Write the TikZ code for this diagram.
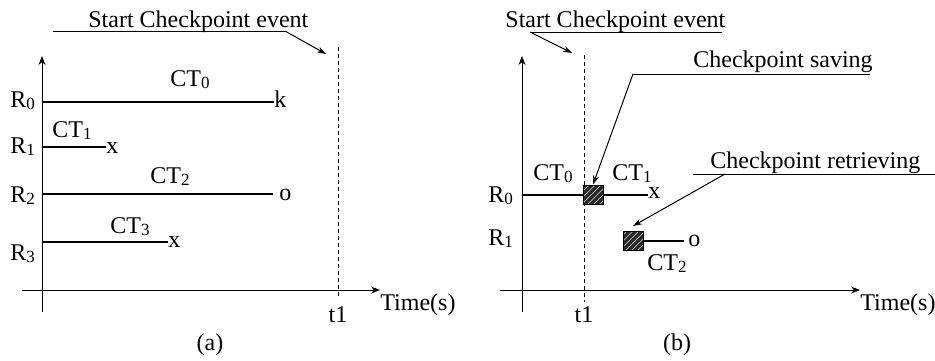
\documentclass[tikz,border=0pt]{standalone}
\usepackage{fontspec}
\setmainfont{Liberation Serif}
\usetikzlibrary{arrows.meta,patterns}
\newcommand{\sbs}[1]{\raisebox{-0.2ex}{\fontsize{8.5}{8.5}\selectfont #1}}
\begin{document}
\begin{tikzpicture}[x=0.5pt,y=-0.5pt,
  lbl/.style={anchor=base west,inner sep=0pt,font=\fontsize{12}{12}\selectfont},
  lblc/.style={anchor=base,inner sep=0pt,font=\fontsize{12}{12}\selectfont},
  axis/.style={line width=0.5pt,-{Stealth[length=4.5pt,width=3.5pt]}},
  task/.style={line width=1pt},
  evline/.style={line width=0.5pt,dash pattern=on 2pt off 1.5pt},
  note/.style={line width=0.5pt,-{Stealth[length=4.5pt,width=3pt]}},
  ckbox/.style={draw,line width=0.5pt,minimum width=10pt,minimum height=9.5pt,inner sep=0pt,
    preaction={fill=black!85},pattern=north east lines,pattern color=black!35}]
\useasboundingbox (0,0) rectangle (935,360);
% ---------- panel (a) ----------
\coordinate (ya0) at (42,312);
\coordinate (ya1) at (42,56);
\coordinate (xa0) at (22,290);
\coordinate (xa1) at (380,290);
\draw[axis] (ya0) -- (ya1);
\draw[axis] (xa0) -- (xa1);
\coordinate (da0) at (338,47);
\coordinate (da1) at (338,296);
\draw[evline] (da0) -- (da1);
\node[lbl] (timea) at (380,310) {Time(s)};
\node[lblc] (t1a) at (338,322) {t1};
\node[lblc] (capa) at (210,350) {(a)};
\node[lbl] (sca) at (88,27) {Start Checkpoint event};
\coordinate (ua0) at (53,31);
\coordinate (ua1) at (285,31);
\coordinate (ua2) at (326,54);
\draw[line width=0.5pt] (ua0) -- (ua1);
\draw[note] (ua1) -- (ua2);
% R0
\node[lbl] (r0a) at (10,107) {R\sbs{0}};
\coordinate (l0a) at (42,102);
\node[lbl] (k0a) at (274,107) {k};
\draw[task] (l0a) -- (k0a.west |- l0a);
\node[lbl] (ct0a) at (170,86) {CT\sbs{0}};
% R1
\node[lbl] (r1a) at (10,153) {R\sbs{1}};
\coordinate (l1a) at (42,147);
\node[lbl] (x1a) at (106,153) {x};
\draw[task] (l1a) -- (x1a.west |- l1a);
\node[lbl] (ct1a) at (52,137) {CT\sbs{1}};
% R2
\node[lbl] (r2a) at (10,202) {R\sbs{2}};
\coordinate (l2a) at (42,194);
\node[lbl] (o2a) at (279,200) {o};
\draw[task] (l2a) -- (273,194);
\node[lbl] (ct2a) at (150,183) {CT\sbs{2}};
% R3
\node[lbl] (r3a) at (10,260) {R\sbs{3}};
\coordinate (l3a) at (42,242);
\node[lbl] (x3a) at (168,247) {x};
\draw[task] (l3a) -- (x3a.west |- l3a);
\node[lbl] (ct3a) at (110,233) {CT\sbs{3}};
% ---------- panel (b) ----------
\coordinate (yb0) at (522,312);
\coordinate (yb1) at (522,56);
\coordinate (xb0) at (500,290);
\coordinate (xb1) at (860,290);
\draw[axis] (yb0) -- (yb1);
\draw[axis] (xb0) -- (xb1);
\coordinate (db0) at (584,55);
\coordinate (db1) at (584,302);
\draw[evline] (db0) -- (db1);
\node[lbl] (timeb) at (860,310) {Time(s)};
\node[lblc] (t1b) at (584,322) {t1};
\node[lblc] (capb) at (677,350) {(b)};
\node[lbl] (scb) at (505,27) {Start Checkpoint event};
\coordinate (ub0) at (530,32);
\coordinate (ub1) at (722,32);
\coordinate (ub2) at (572,53);
\draw[line width=0.5pt] (ub0) -- (ub1);
\draw[note] (ub0) -- (ub2);
% boxes
\node[ckbox] (box1) at (593,194.5) {};
\node[ckbox] (box2) at (633,241) {};
% R0
\node[lbl] (r0b) at (488,202) {R\sbs{0}};
\coordinate (l0b) at (522,194.5);
\draw[task] (l0b) -- (box1.west);
\node[lbl] (x0b) at (648,198) {x};
\draw[task] (box1.east) -- (x0b.west |- box1.east);
\node[lbl] (ct0b) at (533,180) {CT\sbs{0}};
\node[lbl] (ct1b) at (612,180) {CT\sbs{1}};
% R1
\node[lbl] (r1b) at (488,245) {R\sbs{1}};
\node[lbl] (o1b) at (688,246) {o};
\draw[task] (box2.east) -- (684,241);
\node[lbl] (ct2b) at (647,270) {CT\sbs{2}};
% annotations
\node[lbl] (savb) at (693,67) {Checkpoint saving};
\coordinate (us0) at (633,74);
\coordinate (us1) at (870,74);
\draw[line width=0.5pt] (us0) -- (us1);
\draw[note] (us0) -- (box1.north);
\node[lbl] (retb) at (710,168) {Checkpoint retrieving};
\coordinate (ur0) at (693,174);
\coordinate (ur1) at (935,174);
\coordinate (ur2) at (725,174);
\draw[line width=0.5pt] (ur0) -- (ur1);
\draw[note] (ur2) -- ([yshift=2.5pt]box2.north);
\end{tikzpicture}
\end{document}
